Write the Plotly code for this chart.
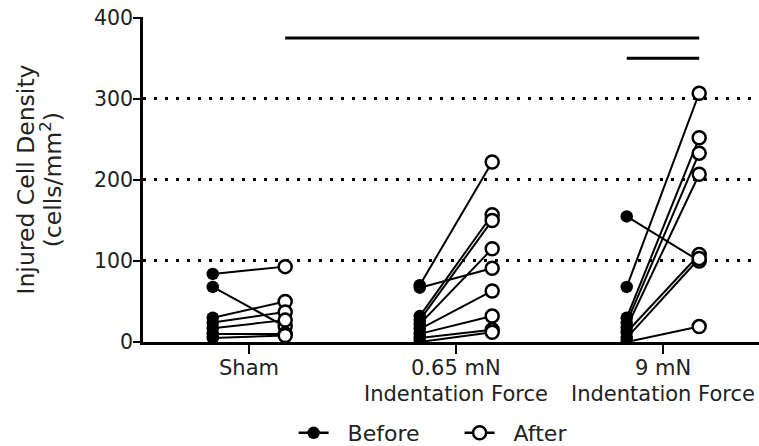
import plotly.graph_objects as go

group_line1 = ["Sham", "0.65 mN", "9 mN"]
group_line2 = ["", "Indentation Force", "Indentation Force"]
sham_before = [84, 68, 30, 24, 17, 10, 5]
sham_after = [93, 19, 50, 37, 27, 10, 8]
mid_before = [70, 67, 32, 27, 22, 16, 10, 5, 0]
mid_after = [222, 91, 157, 150, 115, 63, 32, 15, 12]
high_before = [155, 68, 30, 24, 18, 12, 5, 0]
high_after = [100, 307, 252, 233, 207, 108, 103, 19]
y_ticks = [0, 100, 200, 300, 400]
sig_from = [0.175, 1.825]
sig_to = [2.175, 2.175]
sig_y = [375, 350]

OFF = 0.175
FONT = "DejaVu Sans, Verdana, sans-serif"
data = [(sham_before, sham_after), (mid_before, mid_after), (high_before, high_after)]

seg_x, seg_y = [], []
bx, by, ax_, ay = [], [], [], []
for gi, (b, a) in enumerate(data):
    for vb, va in zip(b, a):
        seg_x += [gi - OFF, gi + OFF, None]
        seg_y += [vb, va, None]
        bx += [gi - OFF, None]
        by += [vb, None]
        ax_ += [gi + OFF, None]
        ay += [va, None]

fig = go.Figure()
fig.add_trace(go.Scatter(x=seg_x, y=seg_y, mode="lines",
                         line=dict(color="black", width=2), showlegend=False, hoverinfo="skip"))
for x0, x1, yy in zip(sig_from, sig_to, sig_y):
    fig.add_trace(go.Scatter(x=[x0, x1], y=[yy, yy], mode="lines",
                             line=dict(color="black", width=3), showlegend=False))
fig.add_trace(go.Scatter(x=bx, y=by, mode="lines+markers", name="&nbsp;&nbsp;Before",
                         line=dict(color="black", width=2.5),
                         marker=dict(symbol="circle", size=12.5, color="black")))
fig.add_trace(go.Scatter(x=ax_, y=ay, mode="lines+markers", name="&nbsp;&nbsp;After",
                         line=dict(color="black", width=2.5),
                         marker=dict(symbol="circle", size=13, color="white",
                                     line=dict(color="black", width=2.5))))

annotations = []
for i, (l1, l2) in enumerate(zip(group_line1, group_line2)):
    annotations.append(dict(x=i, xref="x", y=-0.08, yref="paper", text=l1, showarrow=False,
                            xanchor="center", yanchor="middle",
                            font=dict(family=FONT, size=21, color="#222")))
    if l2:
        annotations.append(dict(x=i, xref="x", y=-0.16, yref="paper", text=l2, showarrow=False,
                                xanchor="center", yanchor="middle",
                                font=dict(family=FONT, size=21, color="#222")))
annotations.append(dict(x=-0.19, xref="paper", y=0.5, yref="paper", text="Injured Cell Density",
                        textangle=-90, showarrow=False, xanchor="center", yanchor="middle",
                        font=dict(family=FONT, size=23.5, color="#222")))
annotations.append(dict(x=-0.148, xref="paper", y=0.5, yref="paper", text="(cells/mm<sup>2</sup>)",
                        textangle=-90, showarrow=False, xanchor="center", yanchor="middle",
                        font=dict(family=FONT, size=23.5, color="#222")))

fig.update_layout(
    width=759, height=446,
    margin=dict(l=143, r=0, t=17, b=104, autoexpand=False),
    plot_bgcolor="white", paper_bgcolor="white",
    font=dict(family=FONT, size=20.5, color="#222"),
    showlegend=True,
    legend=dict(orientation="h", x=0.2445, xanchor="left", y=-0.28, yanchor="middle",
                font=dict(family=FONT, size=22, color="#222"), tracegroupgap=0,
                entrywidth=121, entrywidthmode="pixels"),
    annotations=annotations,
    xaxis=dict(range=[-0.512, 2.464], tickvals=[0, 1, 2], ticktext=["", "", ""],
               showline=True, linecolor="black", linewidth=2.5,
               ticks="outside", ticklen=9, tickwidth=2, tickcolor="black",
               showgrid=False, zeroline=False, automargin=False),
    yaxis=dict(range=[0, 401], tickvals=y_ticks,
               showline=True, linecolor="black", linewidth=2.5,
               ticks="outside", ticklen=7, tickwidth=2, tickcolor="black",
               ticklabelstandoff=-4,
               showgrid=True, gridcolor="black", gridwidth=2.5, griddash="2.5px,8.5px",
               zeroline=False, automargin=False),
)
fig.write_html("out.html", config={"displayModeBar": False},
               post_script="document.body.style.margin='0';")
